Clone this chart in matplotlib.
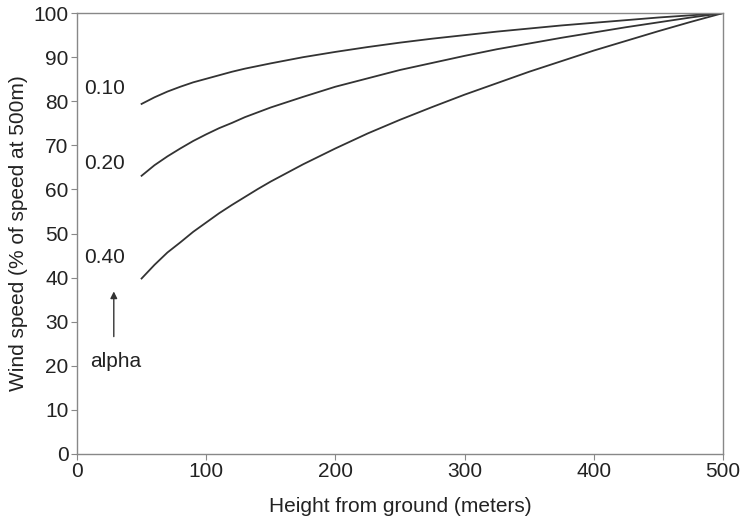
import matplotlib
matplotlib.use("Agg")
import matplotlib.pyplot as plt

plt.rcParams['font.family'] = ['Liberation Sans', 'DejaVu Sans']

# heights (m) and wind speed as % of speed at 500 m
heights = [50, 60, 70, 80, 90, 100, 110, 120, 130, 140, 150, 175, 200, 225,
           250, 275, 300, 325, 350, 375, 400, 425, 450, 475, 500]
speed_010 = [79.4, 80.9, 82.2, 83.3, 84.3, 85.1, 85.9, 86.7, 87.4, 88.0, 88.6,
             90.0, 91.2, 92.3, 93.3, 94.2, 95.0, 95.8, 96.5, 97.2, 97.8, 98.4,
             99.0, 99.5, 100.0]
speed_020 = [63.1, 65.5, 67.5, 69.3, 71.0, 72.5, 73.9, 75.1, 76.4, 77.5, 78.6,
             81.0, 83.3, 85.2, 87.1, 88.7, 90.3, 91.8, 93.1, 94.4, 95.6, 96.8,
             97.9, 99.0, 100.0]
speed_040 = [39.8, 42.9, 45.7, 48.0, 50.4, 52.5, 54.6, 56.5, 58.3, 60.1, 61.8,
             65.7, 69.3, 72.7, 75.8, 78.7, 81.5, 84.1, 86.7, 89.1, 91.5, 93.7,
             95.9, 98.0, 100.0]
curve_labels = ['0.10', '0.20', '0.40']
label_y = [83, 66, 44.5]

fig = plt.figure(figsize=(7.43, 5.24), dpi=100)
ax = fig.add_axes([0.1036, 0.1336, 0.8694, 0.8414])

line_col = '#333333'
for s in [speed_010, speed_020, speed_040]:
    ax.plot(heights, s, color=line_col, lw=1.3)

fs = 15
for lab, yy in zip(curve_labels, label_y):
    ax.text(21.5, yy, lab, ha='center', va='center', fontsize=fs, color='#222222')

ax.annotate('', xy=(28.5, 37.5), xytext=(28.5, 26),
            arrowprops=dict(arrowstyle='-|>', color='#333333', lw=1.0,
                            mutation_scale=10))
ax.text(30, 21, 'alpha', ha='center', va='center', fontsize=fs, color='#222222')

ax.set_xlim(0, 500)
ax.set_ylim(0, 100)
ax.set_xticks(range(0, 501, 100))
ax.set_yticks(range(0, 101, 10))
ax.tick_params(labelsize=fs, colors='#222222', length=4, width=0.8, pad=2)
ax.tick_params(color='#888888')
for sp in ax.spines.values():
    sp.set_color('#888888')
    sp.set_linewidth(1.0)

ax.set_xlabel('Height from ground (meters)', fontsize=fs, color='#222222', labelpad=11)
ax.set_ylabel('Wind speed (% of speed at 500m)', fontsize=fs, color='#222222', labelpad=4)

fig.savefig('out.png', dpi=100)
